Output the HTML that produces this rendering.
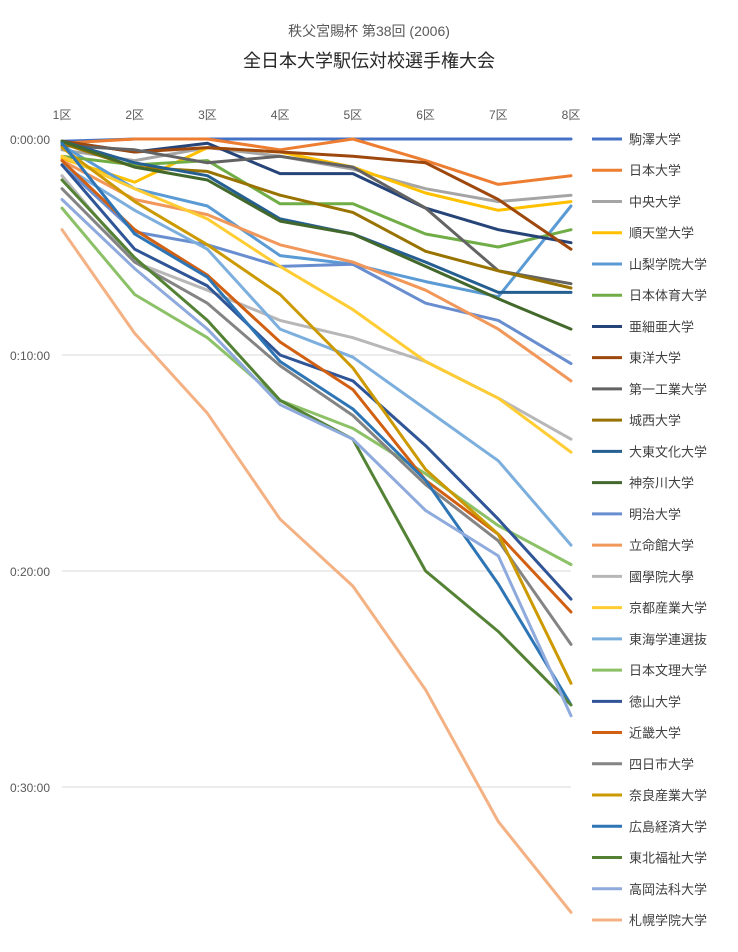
<!DOCTYPE html>
<html><head><meta charset="utf-8">
<style>
html,body{margin:0;padding:0;background:#fff;}
svg{display:block;font-family:"Liberation Sans","Noto Sans CJK JP",sans-serif;}
</style></head>
<body>
<svg id="chart" width="738" height="952" viewBox="0 0 738 952">
<text x="369" y="36" text-anchor="middle" font-size="14" fill="#595959">秩父宮賜杯 第38回 (2006)</text>
<text x="369" y="67" text-anchor="middle" font-size="18" fill="#262626">全日本大学駅伝対校選手権大会</text>
<g id="grid"></g><g id="axes"></g><g id="lines"></g><g id="legend"></g>
</svg>
<script>
const categories=["1区","2区","3区","4区","5区","6区","7区","8区"];
const yTicks=[0,10,20,30];
const yTickLabels=["0:00:00","0:10:00","0:20:00","0:30:00"];
const teams=["駒澤大学","日本大学","中央大学","順天堂大学","山梨学院大学","日本体育大学","亜細亜大学","東洋大学","第一工業大学","城西大学","大東文化大学","神奈川大学","明治大学","立命館大学","國學院大學","京都産業大学","東海学連選抜","日本文理大学","徳山大学","近畿大学","四日市大学","奈良産業大学","広島経済大学","東北福祉大学","高岡法科大学","札幌学院大学"];
const colors=["#4472C4","#ED7D31","#A5A5A5","#FFC000","#5B9BD5","#70AD47","#264478","#9E480E","#636363","#997300","#255E91","#43682B","#698ED0","#F1975A","#B7B7B7","#FFCD33","#7CAFDD","#8CC168","#2F5597","#D26012","#848484","#CC9A00","#2E75B6","#548235","#8FAADC","#F4B183"];
// minutes behind leader after each stage
const s01=[0.1,0,0,0,0,0,0,0];
const s02=[0.2,0,0,0.5,0,1.0,2.1,1.7];
const s03=[0.5,1.0,0.4,0.8,1.4,2.3,2.9,2.6];
const s04=[0.9,2.0,0.4,0.6,1.3,2.5,3.3,2.9];
const s05=[0.3,2.3,3.1,5.4,5.8,6.6,7.3,3.1];
const s06=[0.8,1.2,1.0,3.0,3.0,4.4,5.0,4.2];
const s07=[0.1,0.6,0.2,1.6,1.6,3.2,4.2,4.8];
const s08=[0.1,0.6,0.4,0.6,0.8,1.1,2.8,5.1];
const s09=[0.3,0.5,1.1,0.8,1.3,3.2,6.1,6.7];
const s10=[0.2,1.3,1.5,2.6,3.4,5.2,6.1,6.9];
const s11=[0.1,1.1,1.7,3.7,4.4,5.7,7.1,7.1];
const s12=[0.1,1.3,1.9,3.8,4.4,5.9,7.4,8.8];
const s13=[1.2,4.3,4.9,5.9,5.8,7.6,8.4,10.4];
const s14=[1.0,2.8,3.5,4.9,5.7,7.0,8.8,11.2];
const s15=[1.7,5.7,7.0,8.4,9.2,10.3,12.0,13.9];
const s16=[0.8,2.3,3.7,5.9,7.9,10.3,12.0,14.5];
const s17=[1.2,3.3,5.1,8.8,10.1,12.5,14.9,18.8];
const s18=[3.2,7.2,9.2,12.1,13.4,15.5,17.9,19.7];
const s19=[1.2,5.1,6.8,10.0,11.2,14.2,17.6,21.3];
const s20=[1.0,4.2,6.3,9.4,11.6,15.8,18.3,21.9];
const s21=[2.3,5.7,7.6,10.5,12.8,16.0,18.6,23.4];
const s22=[0.4,2.9,4.9,7.2,10.6,15.3,18.3,25.2];
const s23=[0.2,4.4,6.4,10.3,12.5,15.8,20.6,26.2];
const s24=[1.9,5.5,8.4,12.1,13.9,20.0,22.8,26.2];
const s25=[2.8,6.0,8.8,12.3,13.9,17.2,19.3,26.7];
const s26=[4.2,9.0,12.7,17.6,20.7,25.5,31.6,35.8];
const series=[s01,s02,s03,s04,s05,s06,s07,s08,s09,s10,s11,s12,s13,s14,s15,s16,s17,s18,s19,s20,s21,s22,s23,s24,s25,s26];

const NS="http://www.w3.org/2000/svg";
const X0=62,X1=571,Y0=139,PXM=21.6;
function xScale(i){return X0+i*(X1-X0)/(categories.length-1);}
function yScale(m){return Y0+m*PXM;}
function mk(tag,attrs,parent){const e=document.createElementNS(NS,tag);for(const k in attrs)e.setAttribute(k,attrs[k]);parent.appendChild(e);return e;}
const grid=document.getElementById('grid'),axes=document.getElementById('axes'),lines=document.getElementById('lines'),legend=document.getElementById('legend');
yTicks.forEach((t,i)=>{
  const y=yScale(t);
  if(t>0){const g=mk('line',{x1:X0,x2:X1,y1:y,y2:y,stroke:'#d9d9d9','stroke-width':1},grid);
    
    }
  const tx=mk('text',{x:50,y:y+5,'text-anchor':'end','font-size':12,fill:'#595959'},axes);
  tx.textContent=yTickLabels[i];
  
  
});
categories.forEach((c,i)=>{
  const x=xScale(i);
  const tx=mk('text',{x:x,y:119,'text-anchor':'middle','font-size':12,fill:'#595959'},axes);
  tx.textContent=c;
  
  
});
series.forEach((s,k)=>{
  const pts=s.map((v,i)=>xScale(i).toFixed(1)+','+yScale(v).toFixed(1)).join(' ');
  const pl=mk('polyline',{points:pts,fill:'none',stroke:colors[k],'stroke-width':3,'stroke-linejoin':'round','stroke-linecap':'round'},lines);
  
  
  const ly=139+k*31.24;
  const g=mk('g',{},legend);
  
  
  mk('line',{x1:592,x2:622,y1:ly,y2:ly,stroke:colors[k],'stroke-width':3},g);
  const t=mk('text',{x:629,y:ly+5,'font-size':13,fill:'#404040'},g);
  t.textContent=teams[k];
});
</script>
</body></html>
